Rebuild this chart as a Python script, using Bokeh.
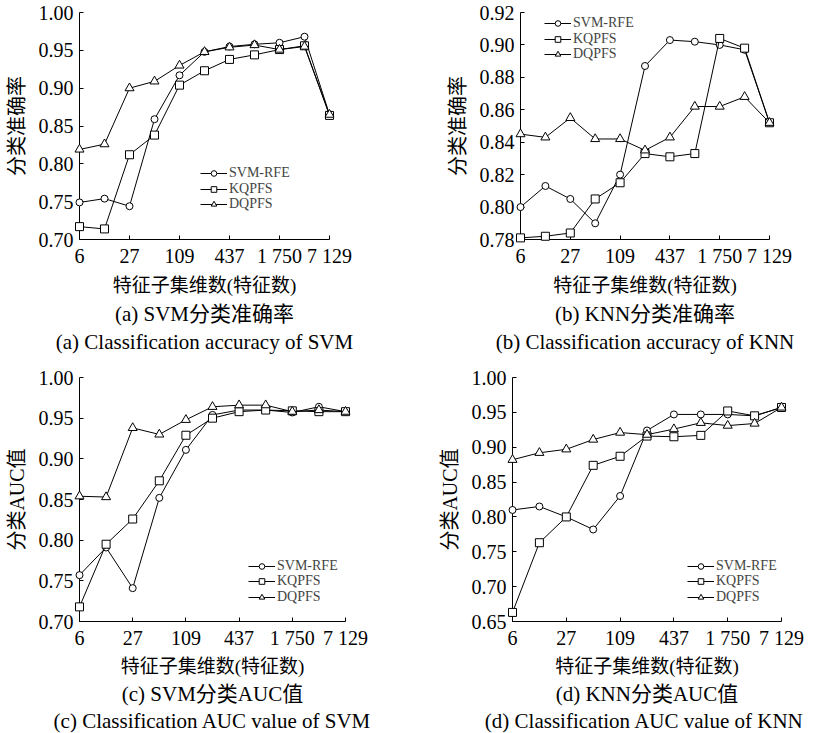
from bokeh.plotting import figure
from bokeh.models import Range1d, FixedTicker, Legend, LegendItem, Title, PrintfTickFormatter
from bokeh.layouts import row, column
from bokeh.embed import file_html
from bokeh.resources import INLINE

# ---------------- data ----------------
feature_tick_labels = ["6", "27", "109", "437", "1 750", "7 129"]
n_points = 11
methods = ["SVM-RFE", "KQPFS", "DQPFS"]

svm_acc_svmrfe = [0.749, 0.754, 0.744, 0.859, 0.917, 0.948, 0.955, 0.958, 0.960, 0.968, 0.865]
svm_acc_kqpfs = [0.717, 0.714, 0.812, 0.838, 0.904, 0.923, 0.938, 0.944, 0.951, 0.956, 0.864]
svm_acc_dqpfs = [0.819, 0.826, 0.900, 0.909, 0.930, 0.948, 0.954, 0.957, 0.951, 0.955, 0.865]

knn_acc_svmrfe = [0.800, 0.813, 0.805, 0.790, 0.820, 0.887, 0.903, 0.902, 0.900, 0.897, 0.852]
knn_acc_kqpfs = [0.781, 0.782, 0.784, 0.805, 0.815, 0.833, 0.831, 0.833, 0.904, 0.898, 0.852]
knn_acc_dqpfs = [0.845, 0.843, 0.855, 0.842, 0.842, 0.835, 0.843, 0.862, 0.862, 0.868, 0.852]

svm_auc_svmrfe = [0.757, 0.791, 0.741, 0.852, 0.911, 0.954, 0.960, 0.960, 0.957, 0.964, 0.958]
svm_auc_kqpfs = [0.718, 0.795, 0.826, 0.873, 0.929, 0.950, 0.958, 0.960, 0.959, 0.958, 0.958]
svm_auc_dqpfs = [0.854, 0.853, 0.938, 0.930, 0.948, 0.964, 0.966, 0.966, 0.958, 0.960, 0.958]

knn_auc_svmrfe = [0.810, 0.815, 0.800, 0.782, 0.830, 0.924, 0.947, 0.947, 0.947, 0.945, 0.957]
knn_auc_kqpfs = [0.663, 0.763, 0.800, 0.874, 0.887, 0.916, 0.915, 0.917, 0.952, 0.945, 0.957]
knn_auc_dqpfs = [0.882, 0.892, 0.897, 0.911, 0.921, 0.918, 0.926, 0.935, 0.931, 0.934, 0.957]

x_label = "特征子集维数(特征数)"

FONT = "'Liberation Serif', 'Noto Sans CJK SC'"
LATIN = "'Liberation Serif'"
MARKERS = ["circle", "square", "triangle"]
MSIZE = [7, 8, 9]
LEG_ROW = 15.5


def make_panel(series, y_start, y_end, y_ticks, y_label, t_cn, t_en,
               width, height, mb_left, mb_right, mb_top, mb_bottom, legend_loc,
               x_std, t1_std, t2_std):
    p = figure(width=width, height=height, output_backend="svg", toolbar_location=None,
               x_range=Range1d(0, n_points - 1), y_range=Range1d(y_start, y_end),
               min_border_left=mb_left, min_border_right=mb_right,
               min_border_top=mb_top, min_border_bottom=mb_bottom)
    p.outline_line_color = None
    p.xgrid.visible = False
    p.ygrid.visible = False
    p.background_fill_color = "white"

    xs = list(range(n_points))
    lx, ly = legend_loc  # x offset of glyph start, y of the top row's centre above frame bottom
    for i, (name, vals, mk, ms) in enumerate(zip(methods, series, MARKERS, MSIZE)):
        lr = p.line(xs, vals, line_color="black", line_width=1, level="overlay")
        sr = p.scatter(xs, vals, marker=mk, size=ms, fill_color="white",
                       line_color="black", line_width=1, level="overlay")
        leg = Legend(items=[LegendItem(label=name, renderers=[lr, sr])],
                     location=(lx, int(round(ly - i * LEG_ROW - 8))),
                     margin=0, padding=0, spacing=0,
                     label_height=14, glyph_height=14, glyph_width=27, label_standoff=2,
                     border_line_color=None, background_fill_alpha=0,
                     label_text_font=LATIN, label_text_font_size="14px")
        p.add_layout(leg)

    tick_pos = [2 * i for i in range(len(feature_tick_labels))]
    p.xaxis.ticker = FixedTicker(ticks=tick_pos)
    p.xaxis.major_label_overrides = {tp: lab for tp, lab in zip(tick_pos, feature_tick_labels)}
    p.yaxis.ticker = FixedTicker(ticks=y_ticks)
    p.yaxis.formatter = PrintfTickFormatter(format="%.2f")

    for ax in (p.xaxis, p.yaxis):
        ax.major_tick_in = 4
        ax.major_tick_out = 0
        ax.minor_tick_line_color = None
        ax.axis_line_color = "black"
        ax.major_tick_line_color = "black"
        ax.major_label_text_font = LATIN
        ax.major_label_text_font_size = "20px"
        ax.major_label_text_color = "black"
        ax.axis_label_text_font = FONT
        ax.axis_label_text_font_style = "normal"
        ax.axis_label_text_color = "black"
        ax.major_label_standoff = 5
    p.xaxis.axis_label_text_font_size = "19px"
    p.yaxis.axis_label_text_font_size = "20px"
    p.yaxis.major_label_standoff = 6
    p.xaxis.axis_label = x_label
    p.yaxis.axis_label = y_label
    p.xaxis.axis_label_standoff = x_std
    p.yaxis.axis_label_standoff = 8

    for t, sd in ((t_cn, t1_std), (t_en, t2_std)):
        p.add_layout(Title(text=t, align="center", text_font=FONT, text_font_size="21px",
                           text_font_style="normal", text_color="black", standoff=sd), "below")
    return p


def ticks(start, stop, step):
    n = int(round((stop - start) / step))
    return [round(start + i * step, 4) for i in range(n + 1)]


pa = make_panel([svm_acc_svmrfe, svm_acc_kqpfs, svm_acc_dqpfs], 0.70, 1.00, ticks(0.70, 1.00, 0.05),
                "分类准确率", "(a) SVM分类准确率", "(a) Classification accuracy of SVM",
                415, 365, 79, 86, 12, 126, (121, 66), 5, 3, 1)
pb = make_panel([knn_acc_svmrfe, knn_acc_kqpfs, knn_acc_dqpfs], 0.78, 0.92, ticks(0.78, 0.92, 0.02),
                "分类准确率", "(b) KNN分类准确率", "(b) Classification accuracy of KNN",
                415, 365, 105, 61, 12, 126, (24, 216), 5, 3, 1)
pc = make_panel([svm_auc_svmrfe, svm_auc_kqpfs, svm_auc_dqpfs], 0.70, 1.00, ticks(0.70, 1.00, 0.05),
                "分类AUC值", "(c) SVM分类AUC值", "(c) Classification AUC value of SVM",
                415, 368, 79, 70, 12, 112, (169, 55), 4, 0, 2)
pd_ = make_panel([knn_auc_svmrfe, knn_auc_kqpfs, knn_auc_dqpfs], 0.65, 1.00, ticks(0.65, 1.00, 0.05),
                 "分类AUC值", "(d) KNN分类AUC值", "(d) Classification  AUC value of KNN",
                 415, 368, 97, 49, 12, 112, (175, 55), 4, 0, 2)

layout = column(row(pa, pb), row(pc, pd_))
open("out.html", "w").write(file_html(layout, INLINE))
